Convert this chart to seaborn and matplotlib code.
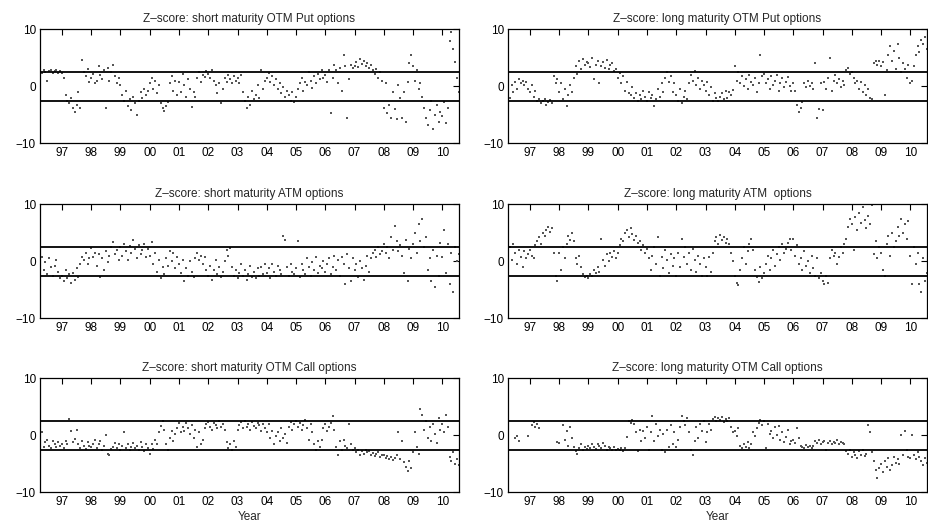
import numpy as np
import pandas as pd
import matplotlib
matplotlib.use("Agg")
import matplotlib.pyplot as plt
import seaborn as sns

nan = np.nan

# time grid: first chunk starts 1996.25, later chunks start at each calendar year, step 1/16 year
chunk_starts = [1996.25] + [float(y) for y in range(1997, 2011)]
tick_years = list(range(1997, 2011))
tick_labels = ["97", "98", "99", "00", "01", "02", "03", "04", "05", "06", "07", "08", "09", "10"]
band = 2.58

titles = [
    "Z\u2013score: short maturity OTM Put options",
    "Z\u2013score: long maturity OTM Put options",
    "Z\u2013score: short maturity ATM options",
    "Z\u2013score: long maturity ATM  options",
    "Z\u2013score: short maturity OTM Call options",
    "Z\u2013score: long maturity OTM Call options",
]

short_otm_put = [
    [2.6, 2.4, 2.8, 2.5, 1.0, 2.7, 2.9, 2.3, 2.6, 2.8, 2.4, 2.7],
    [2.3, 1.5, -1.5, -2.5, -3.0, -2.0, -3.8, -4.5, -3.2, -1.0, -3.8, 4.7, 2.5, 1.8, 3.0, 0.8],
    [1.5, 2.2, 0.5, 1.0, 3.5, 2.0, 1.2, 2.8, -3.8, 3.2, 1.0, 2.5, 3.8, 1.8, 0.5, 1.4],
    [0.3, -1.5, -2.5, -0.8, -3.5, -2.2, -4.2, -1.8, -3.0, -5.0, -2.6, -1.0, -2.0, -0.4, -1.6, -0.8],
    [0.5, 1.4, -0.5, 0.9, -1.2, 0.2, -3.0, -3.8, -4.3, -3.5, -2.8, 0.5, 1.8, -0.8, 1.0, -1.6],
    [0.8, -1.0, 2.2, 0.3, -1.8, 1.2, -0.5, -3.6, -1.0, -1.8, 1.5, 2.5, 0.8, 2.0, 1.6, 2.6],
    [2.2, 1.4, 2.8, 1.0, 0.2, -1.2, 0.5, -3.0, -0.5, 1.5, 0.8, 2.0, 1.2, 0.5, 1.8, 1.0],
    [1.5, 0.6, 1.9, -1.0, -2.5, -3.8, -1.8, -3.2, -0.8, -2.2, -1.5, 0.2, -2.0, 2.9, -0.5, 1.0],
    [1.5, 2.3, 0.8, 1.8, 0.2, 1.2, -0.5, 0.5, -1.2, -0.2, -1.8, -0.8, -1.5, -2.5, -1.0, -2.8],
    [-1.8, -0.5, 0.5, 1.5, -0.8, 0.8, 0.2, 2.5, 1.0, -0.3, 1.8, 0.5, 2.2, 1.2, 2.8, 1.5],
    [2.0, 0.8, 2.8, -4.7, 1.5, 3.8, 2.9, 0.5, 3.2, -0.8, 5.5, 3.5, -5.5, 1.2, 3.8, 3.2],
    [3.6, 4.2, 3.3, 4.8, 3.9, 4.4, 3.5, 4.0, 3.2, 3.7, 2.8, 2.2, 3.0, 1.5, 2.5, 1.0],
    [-3.8, 0.5, -4.6, -3.2, -5.5, -1.0, -4.0, -5.8, 0.2, -2.0, -5.5, -1.0, -6.2, 0.8, 4.0, 5.5],
    [3.5, 1.0, 2.8, -0.5, 0.5, -1.8, -3.8, -5.5, -6.8, -4.2, -2.5, -7.5, -5.0, -3.2, -6.2, -4.5],
    [-5.2, -2.8, -6.5, -3.8, 8.0, 9.5, 6.5, 4.2, 1.5, -1.0],
]

long_otm_put = [
    [-4.0, -2.0, 0.2, -1.0, 0.8, -0.5, 1.2, 0.5, 1.0, 0.2, 0.8, -0.5],
    [-1.0, 0.2, -1.8, -0.8, -2.5, -2.2, -3.0, -2.6, -2.3, -3.2, -2.8, -2.4, -2.9, 1.8, 0.5, 1.2],
    [-1.0, 0.5, -2.2, -0.5, -3.5, -1.5, 0.2, -1.0, 1.5, 3.5, 2.2, 4.5, 3.0, 4.8, 3.8, 4.2],
    [4.0, 3.3, 5.0, 1.2, 3.8, 4.4, 0.5, 3.6, 4.2, 3.2, 4.6, 3.0, 3.8, 4.0, 2.6, 3.0],
    [1.5, 2.4, 0.5, 1.8, -0.8, 0.8, -1.2, -1.5, -0.2, -2.0, -1.2, -2.5, -1.5, -2.2, -0.8, -1.8],
    [-2.5, -1.0, -2.0, -1.5, -3.5, -2.2, -0.5, -1.8, 0.5, -1.0, 1.5, 2.5, 0.8, 1.8, -1.0, 0.5],
    [-1.5, -2.5, -0.5, -3.0, -1.8, -0.8, -2.2, 0.5, 2.0, 1.0, 2.6, 0.2, 1.5, -0.5, 1.0, 0.2],
    [-0.8, 0.8, -1.5, -0.2, -2.5, -1.2, -2.0, -2.5, -1.8, -1.2, -2.2, -0.8, -2.0, -1.0, -1.6, -0.6],
    [3.5, 1.0, 2.5, 0.5, 1.8, 0.0, 1.2, -0.5, 2.0, 0.8, 0.2, 1.5, -1.0, 0.5, 5.5, 1.8],
    [2.2, 0.5, 1.2, -0.5, 1.8, 0.2, 1.0, 2.0, -0.8, 0.5, 1.5, -0.2, 0.8, 1.6, 0.0, -0.8],
    [0.5, -0.8, -3.2, -4.5, -3.8, -2.8, 0.5, -0.2, 1.0, 0.0, 0.6, -0.5, 4.0, -5.5, -4.0, 0.5],
    [-4.2, 0.8, -0.5, 1.5, 4.9, -0.8, 1.0, 2.0, 0.5, 1.2, -0.2, 1.0, 0.3, 2.8, 3.2, 2.2],
    [2.5, 1.5, 0.5, 1.0, -0.5, 0.8, -1.0, 0.2, -1.5, -0.5, -2.0, -2.2, 4.0, 4.5, 3.8, 4.4],
    [3.6, 4.2, -1.5, 2.8, 5.5, 7.0, 4.5, 6.2, 3.0, 7.5, 5.0, 2.5, 4.0, 3.0, 1.5, 3.8],
    [0.5, 1.0, 3.5, 5.5, 7.0, 6.0, 8.2, 7.5, 8.7, 6.5],
]

short_atm = [
    [-0.5, 0.8, -1.5, -0.2, -2.2, 0.5, -1.0, -2.5, -0.8, 0.2, -1.8, -3.0],
    [-2.5, -3.5, -1.5, -3.0, -2.2, -3.8, -2.0, -3.2, -1.2, -2.8, -0.5, 0.8, 0.2, 1.5, -0.5, 0.5],
    [2.3, 0.8, 1.5, -0.8, 1.2, -2.8, 0.5, -1.5, 1.8, -0.2, 1.0, 2.5, 3.3, 1.2, 2.0, 0.3],
    [2.5, 1.0, 3.0, 1.8, 0.2, 2.6, 1.5, 3.7, 2.2, 0.5, 2.8, 1.2, 2.0, 3.0, 0.8, 2.2],
    [1.0, 3.3, -0.5, 1.5, -1.8, 0.2, -3.0, -1.0, -2.2, 0.5, -0.8, 1.8, 0.0, 1.5, -1.2, 0.8],
    [-0.5, -2.0, 0.2, -3.5, -1.2, -2.5, 0.0, -1.8, -2.8, 0.5, 1.4, 0.2, 1.0, -0.5, 0.8, -1.5],
    [-2.5, -0.8, -3.2, -1.5, 0.2, -2.2, -1.0, -2.8, -1.8, 0.0, 2.0, 1.0, 2.3, -1.0, -2.5, -1.5],
    [-3.0, -2.0, -0.5, -2.6, -1.5, -3.2, -2.2, -0.8, -2.8, -1.8, -3.0, -1.2, -2.5, -1.0, -2.2, -0.5],
    [-2.0, -1.2, -3.0, -0.5, -1.8, -2.5, -0.8, -1.5, -2.2, 4.5, 3.8, -1.0, -2.6, -0.5, -1.8, -2.2],
    [-1.2, 3.5, -2.8, -0.5, -1.5, -2.2, 0.5, -1.0, -2.5, -0.2, -1.5, 0.8, -2.0, -0.8, -1.2, 0.0],
    [-1.8, -0.5, 0.5, -2.2, -1.0, 1.0, -1.5, 0.2, -2.5, 0.8, -0.5, -4.0, 1.2, -1.2, -3.5, 0.5],
    [-1.5, -0.5, -2.8, 0.0, -1.2, -3.2, -0.8, 1.0, -1.8, 0.5, 1.5, 2.0, 0.8, 2.5, 1.2, 1.8],
    [3.0, 1.5, 2.5, 0.5, 4.2, 2.0, 6.2, 3.5, 1.8, 2.8, 1.0, -2.0, 3.8, -3.5, 2.2, 0.5],
    [3.0, 5.0, 1.5, 6.5, 3.5, 7.5, 2.5, 4.2, -1.5, 0.5, -3.5, 2.0, -4.5, 1.0, -2.5, 3.2],
    [0.8, 5.5, -2.0, 3.0, -4.0, 1.5, -5.3, 2.5, 0.0, 1.2],
]

long_atm = [
    [1.0, 2.5, 0.2, 3.0, 1.5, -0.5, 2.0, 0.8, -1.0, 1.8, 0.5, 1.2],
    [2.0, 1.0, 0.5, 2.8, 3.5, 4.2, 3.0, 5.0, 4.5, 5.5, 6.0, 5.2, 5.8, 1.5, -2.5, -3.5],
    [1.5, -1.5, 2.5, 0.5, 3.0, 4.5, 3.8, 4.9, 3.5, 0.5, -0.5, 1.0, -1.0, -2.2, -2.8, -2.5],
    [-3.0, -2.2, -2.6, -1.5, -2.0, -1.0, -1.8, 4.0, 0.2, -0.8, 1.2, 0.0, 1.5, 0.8, 1.8, 0.5],
    [1.5, 2.8, 4.0, 3.5, 5.0, 5.5, 4.2, 5.8, 4.8, 3.8, 4.5, 3.2, 3.5, 2.0, 2.8, 1.5],
    [2.2, 0.5, -1.5, 1.0, 2.5, -0.5, 4.3, -2.5, 0.8, -1.2, 2.0, 0.2, -2.0, 1.2, -0.8, 0.5],
    [-2.5, 1.5, -1.0, 4.0, 0.8, 2.5, -0.5, 1.5, -1.5, 2.2, 0.2, -1.8, 1.0, -0.5, -2.5, 0.5],
    [-1.0, -2.5, 0.8, -1.8, 1.5, 3.5, 4.2, 3.0, 4.6, 3.8, 4.3, 3.2, 4.0, 3.0, 1.5, 0.0],
    [-2.5, -3.8, -4.2, -1.5, 0.5, 2.5, -0.5, 1.8, 3.0, 4.0, 2.0, -1.5, -2.8, -3.6, -1.0, -3.0],
    [-2.0, -0.5, 1.0, -1.5, 0.5, 2.0, -0.8, 1.2, 2.5, 0.2, 3.0, 1.5, 2.2, 3.2, 4.0, 2.0],
    [4.0, 1.0, 2.8, -0.5, 0.5, -1.5, 1.8, -0.8, 0.0, -2.0, 1.0, -1.2, -2.5, 0.5, -3.0, -2.0],
    [-3.5, -4.0, -2.5, -3.8, 0.5, 2.0, 1.0, 1.4, -0.5, 0.8, 2.5, 1.5, 3.0, 4.0, 6.0, 7.5],
    [6.5, 2.0, 7.8, 5.5, 8.5, 6.8, 9.5, 7.2, 5.8, 8.0, 6.5, 9.9, 1.2, 3.5, 0.5, 2.5],
    [1.5, -1.5, -2.5, 3.0, 4.5, 1.0, 5.0, 2.5, 3.5, 6.0, 4.5, 7.5, 5.0, 6.5, 4.0, 7.0],
    [1.0, -3.9, 2.5, -0.5, 1.5, -4.0, -5.3, 0.5, -3.5, -2.0],
]

short_otm_call = [
    [-1.5, 0.6, -2.0, -1.2, -0.8, -1.8, -2.3, -1.0, -1.5, -2.0, -1.2, -1.8],
    [-1.5, -2.2, -1.0, -1.6, 2.8, 0.8, -1.2, -0.6, 1.0, -1.5, -2.2, -1.0, -1.8, -2.4, -1.2, -1.9],
    [-2.0, -1.5, -0.8, -2.2, -1.5, -1.0, -2.6, -1.8, 0.0, -3.2, -3.5, -2.4, -2.0, -1.4, -2.2, -1.6],
    [-2.5, -1.8, 0.6, -2.2, -1.5, -2.6, -2.0, -1.4, -2.3, -1.8, -2.5, -1.2, -2.0, -2.8, -1.6, -2.2],
    [-3.2, -1.5, -2.4, -0.8, -1.5, 0.5, 1.6, 2.5, 1.0, -1.5, -2.5, -0.5, 0.8, -1.0, 0.2, 1.2],
    [2.1, 0.5, 1.5, 0.8, 2.2, 1.2, 0.2, 1.8, -0.5, 1.0, -2.0, 0.5, -1.5, -0.8, 1.2, 2.0],
    [2.4, 1.5, 0.9, 2.2, 1.8, 1.2, 2.5, 1.4, 2.0, 1.0, -1.2, -2.2, -1.6, -2.5, -1.0, -2.0],
    [0.9, 1.8, 2.3, 1.2, 2.5, 1.5, 2.0, 1.0, 2.4, 1.6, 1.2, 2.2, 1.8, 0.8, 2.0, 1.2],
    [0.6, 2.0, -0.5, 0.8, -1.5, -0.2, 0.5, -1.0, 1.2, -0.5, 0.2, -1.3, 1.5, 2.4, 1.0, 2.0],
    [2.5, 1.5, 2.2, 0.9, 1.8, 2.6, 1.2, -0.8, 2.0, 0.5, -1.5, -2.5, -1.0, -2.0, -0.8, 1.2],
    [2.0, 0.8, 1.5, 2.2, 3.3, 1.0, -2.0, -3.5, -1.0, -2.5, -0.8, -1.8, -2.2, 2.0, -1.5, -2.6],
    [-2.3, -3.0, -2.6, -3.4, -2.8, -3.2, -2.5, -3.0, -2.8, -3.4, -3.1, -3.6, -3.3, -3.0, -3.8, -3.5],
    [-3.4, -4.0, -3.6, -4.2, -3.8, -4.4, -4.0, -3.5, 0.5, -4.2, -1.0, -4.6, -5.5, -6.2, -4.5, -5.8],
    [-3.0, 0.5, -2.0, -3.2, 4.7, 3.5, 1.0, 2.5, -0.5, 1.5, -1.0, 2.0, 0.2, -1.4, 3.0, 1.0],
    [2.0, 0.5, 3.5, 1.5, -3.8, -4.5, -3.0, -5.0, -4.2, -5.2],
]

long_otm_call = [
    [nan, nan, nan, nan, -0.5, -0.2, -1.0, nan, nan, nan, nan, -0.1],
    [nan, 1.8, 2.4, 1.5, 2.0, 1.2, nan, nan, nan, nan, nan, nan, nan, nan, nan, -1.2],
    [-1.3, nan, 1.8, -0.8, 0.8, -1.8, 1.5, -0.5, -2.0, -2.8, -3.2, -2.2, -1.5, -2.6, -2.0, -2.4],
    [-1.8, -2.2, -1.5, -2.0, -2.4, -1.6, -1.9, -2.3, -1.4, -1.8, -2.5, -2.0, -2.3, -2.6, -2.1, -2.5],
    [-2.4, -2.6, -2.2, -2.7, -2.3, -0.3, 2.5, 2.2, 2.7, 2.0, 0.5, -2.8, 1.0, -1.0, 0.8, -0.5],
    [1.5, -2.5, 0.5, 3.3, -1.0, 2.0, -0.2, 1.0, -2.5, 0.2, -3.0, 1.0, -2.0, 1.8, -1.5, 0.5],
    [-2.0, -0.8, 1.5, 3.3, 2.5, 1.8, 3.0, 0.5, -2.6, -3.4, -1.0, 1.5, -0.5, 2.0, 0.8, 2.5],
    [-1.2, 0.5, 2.0, 1.0, 2.8, 3.2, 2.5, 3.0, 2.6, 3.2, 2.4, 2.9, 2.5, 3.0, 1.5, 0.5],
    [0.8, -0.2, 1.2, -1.8, -2.2, -1.5, -2.0, -1.2, -2.3, -1.6, 0.5, -0.2, 1.2, 2.2, 2.7, 1.8],
    [2.5, -2.3, 2.0, 0.2, 0.8, -0.5, 1.5, 0.0, 1.6, -0.8, 0.5, -1.2, -0.3, 1.0, -1.5, -1.0],
    [-0.8, -1.4, 1.3, -0.5, -1.8, -2.0, -2.3, -1.7, -2.1, -1.9, -2.2, -1.8, -1.0, -1.4, -0.8, -1.5],
    [-1.2, -1.0, -2.5, -1.3, -1.0, -1.6, -1.2, -1.4, -0.9, -1.5, -1.2, -1.3, -1.6, -2.8, -3.2, -2.6],
    [-3.8, -3.0, -3.5, -4.0, -2.8, -3.4, -2.6, -3.6, -3.2, 1.8, 0.5, -3.0, -4.5, -6.0, -7.5, -5.8],
    [-5.0, -6.5, -4.5, -5.5, -4.0, -6.0, -5.2, -3.8, -4.8, -4.2, -5.0, 0.0, -3.5, 0.8, -2.5, -3.8],
    [-4.0, 0.0, -3.5, -4.2, -3.0, -3.8, -4.5, -5.2, -4.0, -4.8],
]

panels = [short_otm_put, long_otm_put, short_atm, long_atm, short_otm_call, long_otm_call]


def to_frame(chunks):
    xs, ys = [], []
    for start, vals in zip(chunk_starts, chunks):
        for i, v in enumerate(vals):
            xs.append(start + i / 16.0)
            ys.append(v)
    return pd.DataFrame({"year": xs, "z": ys}).dropna()


sns.set_theme(style="white")
plt.rcParams["font.family"] = ["Liberation Sans", "DejaVu Sans"]
plt.rcParams["axes.unicode_minus"] = True

W, H = 929, 525
fig = plt.figure(figsize=(W / 100, H / 100), dpi=100)

lefts = [40, 508]
tops = [29.3, 204.3, 378.3]
aw, ah = 419, 114

for k, (chunks, title) in enumerate(zip(panels, titles)):
    r, c = divmod(k, 2)
    rect = [lefts[c] / W, 1 - (tops[r] + ah) / H, aw / W, ah / H]
    ax = fig.add_axes(rect)
    df = to_frame(chunks)
    sns.scatterplot(data=df, x="year", y="z", ax=ax, color="#555555",
                    s=3.5, marker="s", linewidth=0, legend=False)
    ax.axhline(band, color="black", lw=1.3, zorder=3)
    ax.axhline(-band, color="black", lw=1.3, zorder=3)
    ax.set_xlim(1996.25, 2010.57)
    ax.set_ylim(-10, 10)
    ax.set_xticks(tick_years)
    ax.set_xticklabels(tick_labels)
    ax.set_yticks([-10, 0, 10])
    ax.tick_params(direction="in", top=True, right=True, length=4, width=0.8,
                   labelsize=8.5, pad=3, colors="black")
    for sp in ax.spines.values():
        sp.set_visible(True)
        sp.set_color("black")
        sp.set_linewidth(0.9)
    ax.set_title(title, fontsize=8.5, pad=5)
    ax.set_ylabel("")
    if r == 2:
        ax.set_xlabel("Year", fontsize=8.5, labelpad=2)
    else:
        ax.set_xlabel("")

fig.savefig("out.png", dpi=100)
